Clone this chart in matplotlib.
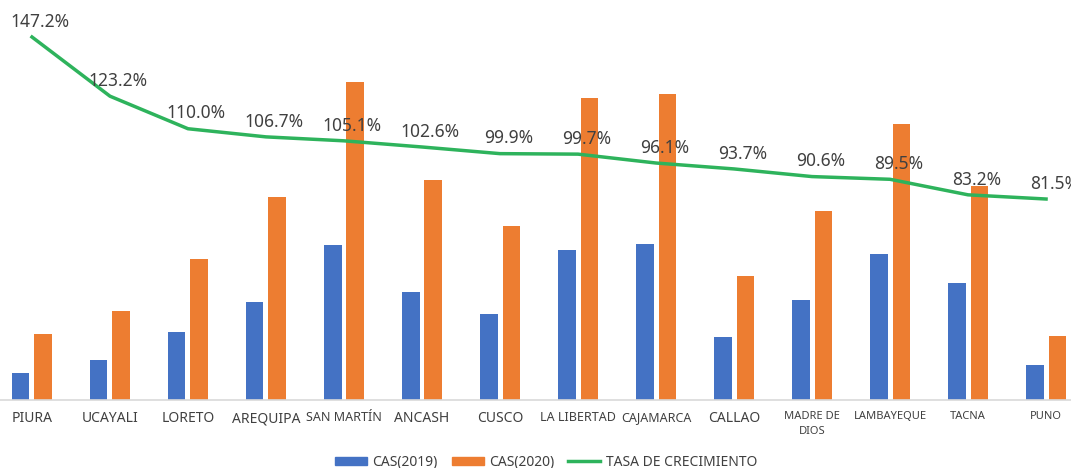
import numpy as np
import matplotlib.pyplot as plt
from matplotlib.patches import Patch
from matplotlib.lines import Line2D

plt.rcParams['font.family'] = ['Noto Sans', 'DejaVu Sans']

# data (bar heights, arbitrary units)
regions = ['PIURA', 'UCAYALI', 'LORETO', 'AREQUIPA', 'SAN MARTÍN', 'ANCASH', 'CUSCO',
           'LA LIBERTAD', 'CAJAMARCA', 'CALLAO', 'MADRE DE\nDIOS', 'LAMBAYEQUE', 'TACNA', 'PUNO']
cas_2019 = [27, 40, 68, 98, 155, 108, 86, 150, 156, 63, 100, 146, 117, 35]
cas_2020 = [66, 89, 141, 203, 318, 220, 174, 302, 306, 124, 189, 276, 214, 64]
tasa = [147.2, 123.2, 110.0, 106.7, 105.1, 102.6, 99.9, 99.7, 96.1, 93.7, 90.6, 89.5, 83.2, 81.5]
label_sizes = [10, 10, 10, 10, 9, 10, 10, 9, 9, 10, 8, 8, 8, 8]

blue = '#4472C4'
orange = '#ED7D31'
green = '#2EB35C'

fig = plt.figure(figsize=(10.71, 4.68), dpi=100)
ax = fig.add_axes([0, 68 / 468, 1, 400 / 468])
x = np.arange(len(regions))
w = 0.23
ax.bar(x - 0.147, cas_2019, w, color=blue)
ax.bar(x + 0.147, cas_2020, w, color=orange)
ax.set_xlim(-0.41, 13.32)
ax.set_ylim(0, 400)

for s in ['top', 'right', 'left']:
    ax.spines[s].set_visible(False)
ax.spines['bottom'].set_color('#d9d9d9')
ax.spines['bottom'].set_linewidth(1.2)
ax.set_yticks([])
ax.set_xticks(x)
ax.set_xticklabels(regions, color='#404040', linespacing=1.5)
for lab, fs in zip(ax.get_xticklabels(), label_sizes):
    lab.set_fontsize(fs)
ax.tick_params(axis='x', length=0, pad=8)

# growth rate on a second axis
ax2 = ax.twinx()
ax2.plot(x, tasa, color=green, lw=2.5)
ax2.set_ylim(0, 400 / 2.466)
ax2.axis('off')
for xi, t in zip(x, tasa):
    ax2.annotate(f'{t:.1f}%', (xi, t), xytext=(6, 11), textcoords='offset points',
                 ha='center', va='center', fontsize=12.5, color='#404040')

handles = [Patch(color=blue), Patch(color=orange), Line2D([], [], color=green, lw=2.5)]
fig.legend(handles, ['CAS(2019)', 'CAS(2020)', 'TASA DE CRECIMIENTO'], loc='lower center',
           bbox_to_anchor=(0.51, -0.03), ncol=3, frameon=False, fontsize=10,
           handlelength=2.3, handleheight=0.5, columnspacing=1.0, handletextpad=0.4,
           labelcolor='#404040')

fig.savefig('out.png', dpi=100)
